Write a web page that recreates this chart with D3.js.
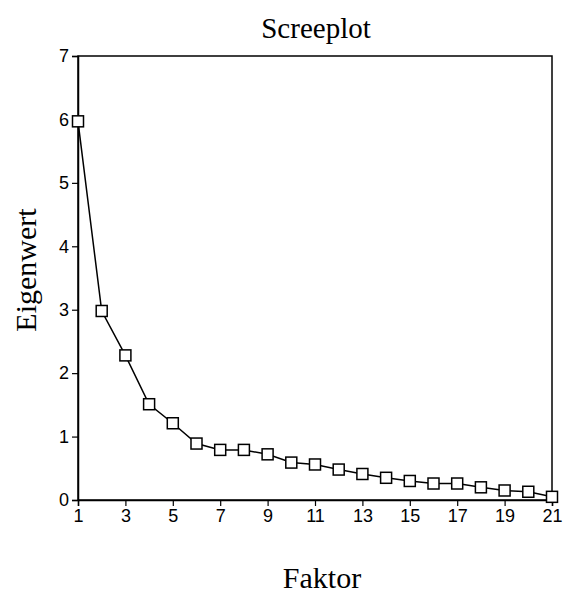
<!DOCTYPE html>
<html>
<head>
<meta charset="utf-8">
<script src="https://cdn.jsdelivr.net/npm/d3@7"></script>
<style>
  body { margin: 0; background: #fff; }
</style>
</head>
<body>
<div id="chart"></div>
<script>
// Data
const factors = d3.range(1, 22);
const eigenvalues = [5.97, 2.98, 2.28, 1.51, 1.21, 0.89, 0.79, 0.79, 0.72, 0.59, 0.56,
                     0.48, 0.41, 0.35, 0.30, 0.26, 0.26, 0.20, 0.15, 0.13, 0.05];
const xTicks = [1, 3, 5, 7, 9, 11, 13, 15, 17, 19, 21];
const yTicks = [0, 1, 2, 3, 4, 5, 6, 7];

const width = 570;
const height = 597;
const margin = { top: 56, right: 18, bottom: 97, left: 78 };

const svg = d3.select("#chart")
    .append("svg")
    .attr("width", width)
    .attr("height", height);

const x = d3.scaleLinear()
    .domain([1, 21])
    .range([margin.left, width - margin.right]);

const y = d3.scaleLinear()
    .domain([0, 7])
    .range([height - margin.bottom, margin.top]);

// Frame
svg.append("rect")
    .attr("x", x(1))
    .attr("y", y(7))
    .attr("width", x(21) - x(1))
    .attr("height", y(0) - y(7))
    .attr("fill", "none")
    .attr("stroke", "#000")
    .attr("stroke-width", 1.5);

// Axes
const xAxis = svg.append("g")
    .attr("transform", `translate(0,${y(0)})`)
    .call(d3.axisBottom(x).tickValues(xTicks).tickSize(6).tickPadding(3).tickFormat(d3.format("d")));

const yAxis = svg.append("g")
    .attr("transform", `translate(${x(1)},0)`)
    .call(d3.axisLeft(y).tickValues(yTicks).tickSize(6).tickPadding(3).tickFormat(d3.format("d")));

[xAxis, yAxis].forEach(g => {
    g.select(".domain").attr("stroke-width", 1.5);
    g.selectAll(".tick line").attr("stroke-width", 1.2);
    g.selectAll("text")
        .style("font-family", "'Liberation Sans', Arial, sans-serif")
        .style("font-size", "18px")
        .attr("fill", "#000");
});

// Line
const line = d3.line()
    .x((d, i) => x(factors[i]))
    .y(d => y(d));

svg.append("path")
    .datum(eigenvalues)
    .attr("d", line)
    .attr("fill", "none")
    .attr("stroke", "#000")
    .attr("stroke-width", 1.5);

// Markers
const s = 11;
svg.selectAll(".marker")
    .data(eigenvalues)
    .enter()
    .append("rect")
    .attr("class", "marker")
    .attr("x", (d, i) => x(factors[i]) - s / 2)
    .attr("y", d => y(d) - s / 2)
    .attr("width", s)
    .attr("height", s)
    .attr("fill", "#fff")
    .attr("stroke", "#000")
    .attr("stroke-width", 1.5);

// Titles
const serif = "'Liberation Serif', 'Times New Roman', serif";

svg.append("text")
    .attr("x", 316)
    .attr("y", 38)
    .attr("text-anchor", "middle")
    .style("font-family", serif)
    .style("font-size", "29px")
    .text("Screeplot");

svg.append("text")
    .attr("x", 322)
    .attr("y", 588)
    .attr("text-anchor", "middle")
    .style("font-family", serif)
    .style("font-size", "30px")
    .text("Faktor");

svg.append("text")
    .attr("transform", `translate(36,270) rotate(-90)`)
    .attr("text-anchor", "middle")
    .style("font-family", serif)
    .style("font-size", "30px")
    .text("Eigenwert");
</script>
</body>
</html>
